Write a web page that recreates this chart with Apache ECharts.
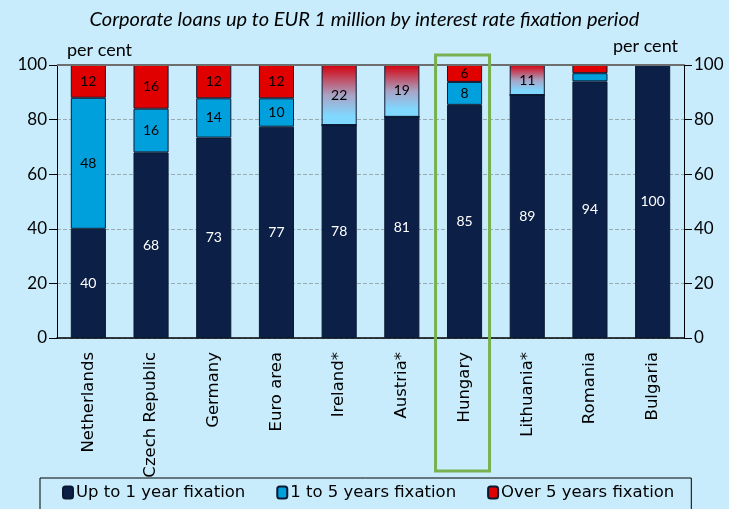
<!DOCTYPE html>
<html>
<head>
<meta charset="utf-8">
<script src="https://cdn.jsdelivr.net/npm/echarts@6/dist/echarts.min.js"></script>
<style>
  html, body { margin: 0; padding: 0; background: #C8ECFC; }
  #main { width: 729px; height: 509px; }
</style>
</head>
<body>
<div id="main"></div>
<script>
var categories = ['Netherlands', 'Czech Republic', 'Germany', 'Euro area', 'Ireland*', 'Austria*', 'Hungary', 'Lithuania*', 'Romania', 'Bulgaria'];
// values (labels are rounded)
var upTo1 = [40, 68, 73.4, 77.4, 78, 81, 85.4, 89, 94, 100];
var oneTo5 = [48, 16, 14.4, 10.4, 0, 0, 8.4, 0, 3, 0];
var over5 = [12, 16, 12.2, 12.2, 0, 0, 6.2, 0, 3, 0];
// countries where 1-5 and over 5 years are not split
var notSplit = [0, 0, 0, 0, 22, 19, 0, 11, 0, 0];
var yTicks = [0, 20, 40, 60, 80, 100];
var highlight = 'Hungary';

var colDark = '#0C1F47', colBlue = '#00A0DC', colRed = '#E00000';
var txtFont = 'Lato';

function lbl(color, minVal) {
  return {
    show: true, position: 'inside', color: color, fontFamily: txtFont, fontSize: 14,
    formatter: function (p) { return p.value >= minVal ? Math.round(p.value) : ''; }
  };
}

var chart = echarts.init(document.getElementById('main'));
var option = {
  backgroundColor: '#C8ECFC',
  animation: false,
  title: {
    text: 'Corporate loans up to EUR 1 million by interest rate fixation period',
    left: 'center', top: 5,
    textStyle: { fontFamily: txtFont, fontStyle: 'italic', fontWeight: 'normal', fontSize: 20, color: '#000' }
  },
  legend: {
    data: ['Up to 1 year fixation', '1 to 5 years fixation', 'Over 5 years fixation'],
    left: 40, bottom: -14,
    padding: [6, 17, 22, 22],
    itemGap: 31, itemWidth: 10, itemHeight: 12,
    borderColor: '#000', borderWidth: 1,
    textStyle: { fontFamily: 'DejaVu Sans', fontSize: 16.5, color: '#000', padding: [0, 0, 0, -2] }
  },
  grid: { left: 57, right: 45, top: 65, bottom: 171 },
  xAxis: {
    type: 'category', data: categories,
    axisLine: { lineStyle: { color: '#000', width: 1.5 } },
    axisTick: { show: false },
    axisLabel: { rotate: 90, fontFamily: 'DejaVu Sans', fontSize: 16.5, color: '#000', margin: 14, interval: 0 }
  },
  yAxis: [0, 1].map(function (i) {
    return {
      type: 'value', min: yTicks[0], max: yTicks[yTicks.length - 1], interval: 20,
      position: i ? 'right' : 'left',
      name: 'per cent', nameGap: 6,
      nameTextStyle: { fontFamily: txtFont, fontSize: 18, color: '#000', align: i ? 'right' : 'left', padding: i ? [0, 6, 4, 0] : [0, 0, 0, 10] },
      axisLine: { show: true, lineStyle: { color: '#000', width: 1 } },
      axisTick: { show: true, length: 8, lineStyle: { color: '#000' } },
      axisLabel: { fontFamily: txtFont, fontSize: 17, color: '#000', margin: 10 },
      splitLine: i ? { show: false } : {
        show: true,
        lineStyle: { type: 'dashed', color: '#9AAAB2', width: 1 }
      }
    };
  }),
  series: [
    {
      name: 'Up to 1 year fixation', type: 'bar', stack: 'a', barWidth: '56%', data: upTo1,
      itemStyle: { color: colDark, borderColor: '#0A1A33', borderWidth: 1 },
      label: lbl('#fff', 30)
    },
    {
      name: '1 to 5 years fixation', type: 'bar', stack: 'a', data: oneTo5,
      itemStyle: { color: colBlue, borderColor: '#0A1A33', borderWidth: 1 },
      label: lbl('#000', 5)
    },
    {
      name: 'Over 5 years fixation', type: 'bar', stack: 'a', data: over5,
      itemStyle: { color: colRed, borderColor: '#0A1A33', borderWidth: 1 },
      label: lbl('#000', 5)
    },
    {
      name: 'not split', type: 'bar', stack: 'a', data: notSplit,
      itemStyle: {
        color: new echarts.graphic.LinearGradient(0, 0, 0, 1, [
          { offset: 0, color: '#D6000C' },
          { offset: 0.5, color: '#A8A2C4' },
          { offset: 0.85, color: '#80D8FF' },
          { offset: 1, color: '#80D8FF' }
        ]),
        borderColor: '#0A1A33', borderWidth: 1
      },
      label: lbl('#000', 5)
    },
    {
      // solid top line at 100
      type: 'line', data: [], silent: true,
      markLine: {
        symbol: 'none', silent: true, label: { show: false },
        lineStyle: { color: '#6E6E6E', type: 'solid', width: 2 },
        data: [{ yAxis: 100 }]
      }
    }
  ]
};
chart.setOption(option);

// green frame around the highlighted country
var hi = categories.indexOf(highlight);
var px = chart.convertToPixel({ xAxisIndex: 0 }, hi);
var yTop = chart.convertToPixel({ yAxisIndex: 0 }, 100);
var yBot = chart.convertToPixel({ yAxisIndex: 0 }, 0);
chart.setOption({
  graphic: [{
    type: 'rect', z: 100,
    shape: { x: px - 29, y: yTop - 10, width: 54, height: (yBot - yTop) + 143 },
    style: { fill: 'none', stroke: '#77B150', lineWidth: 3 }
  }]
});
</script>
</body>
</html>
